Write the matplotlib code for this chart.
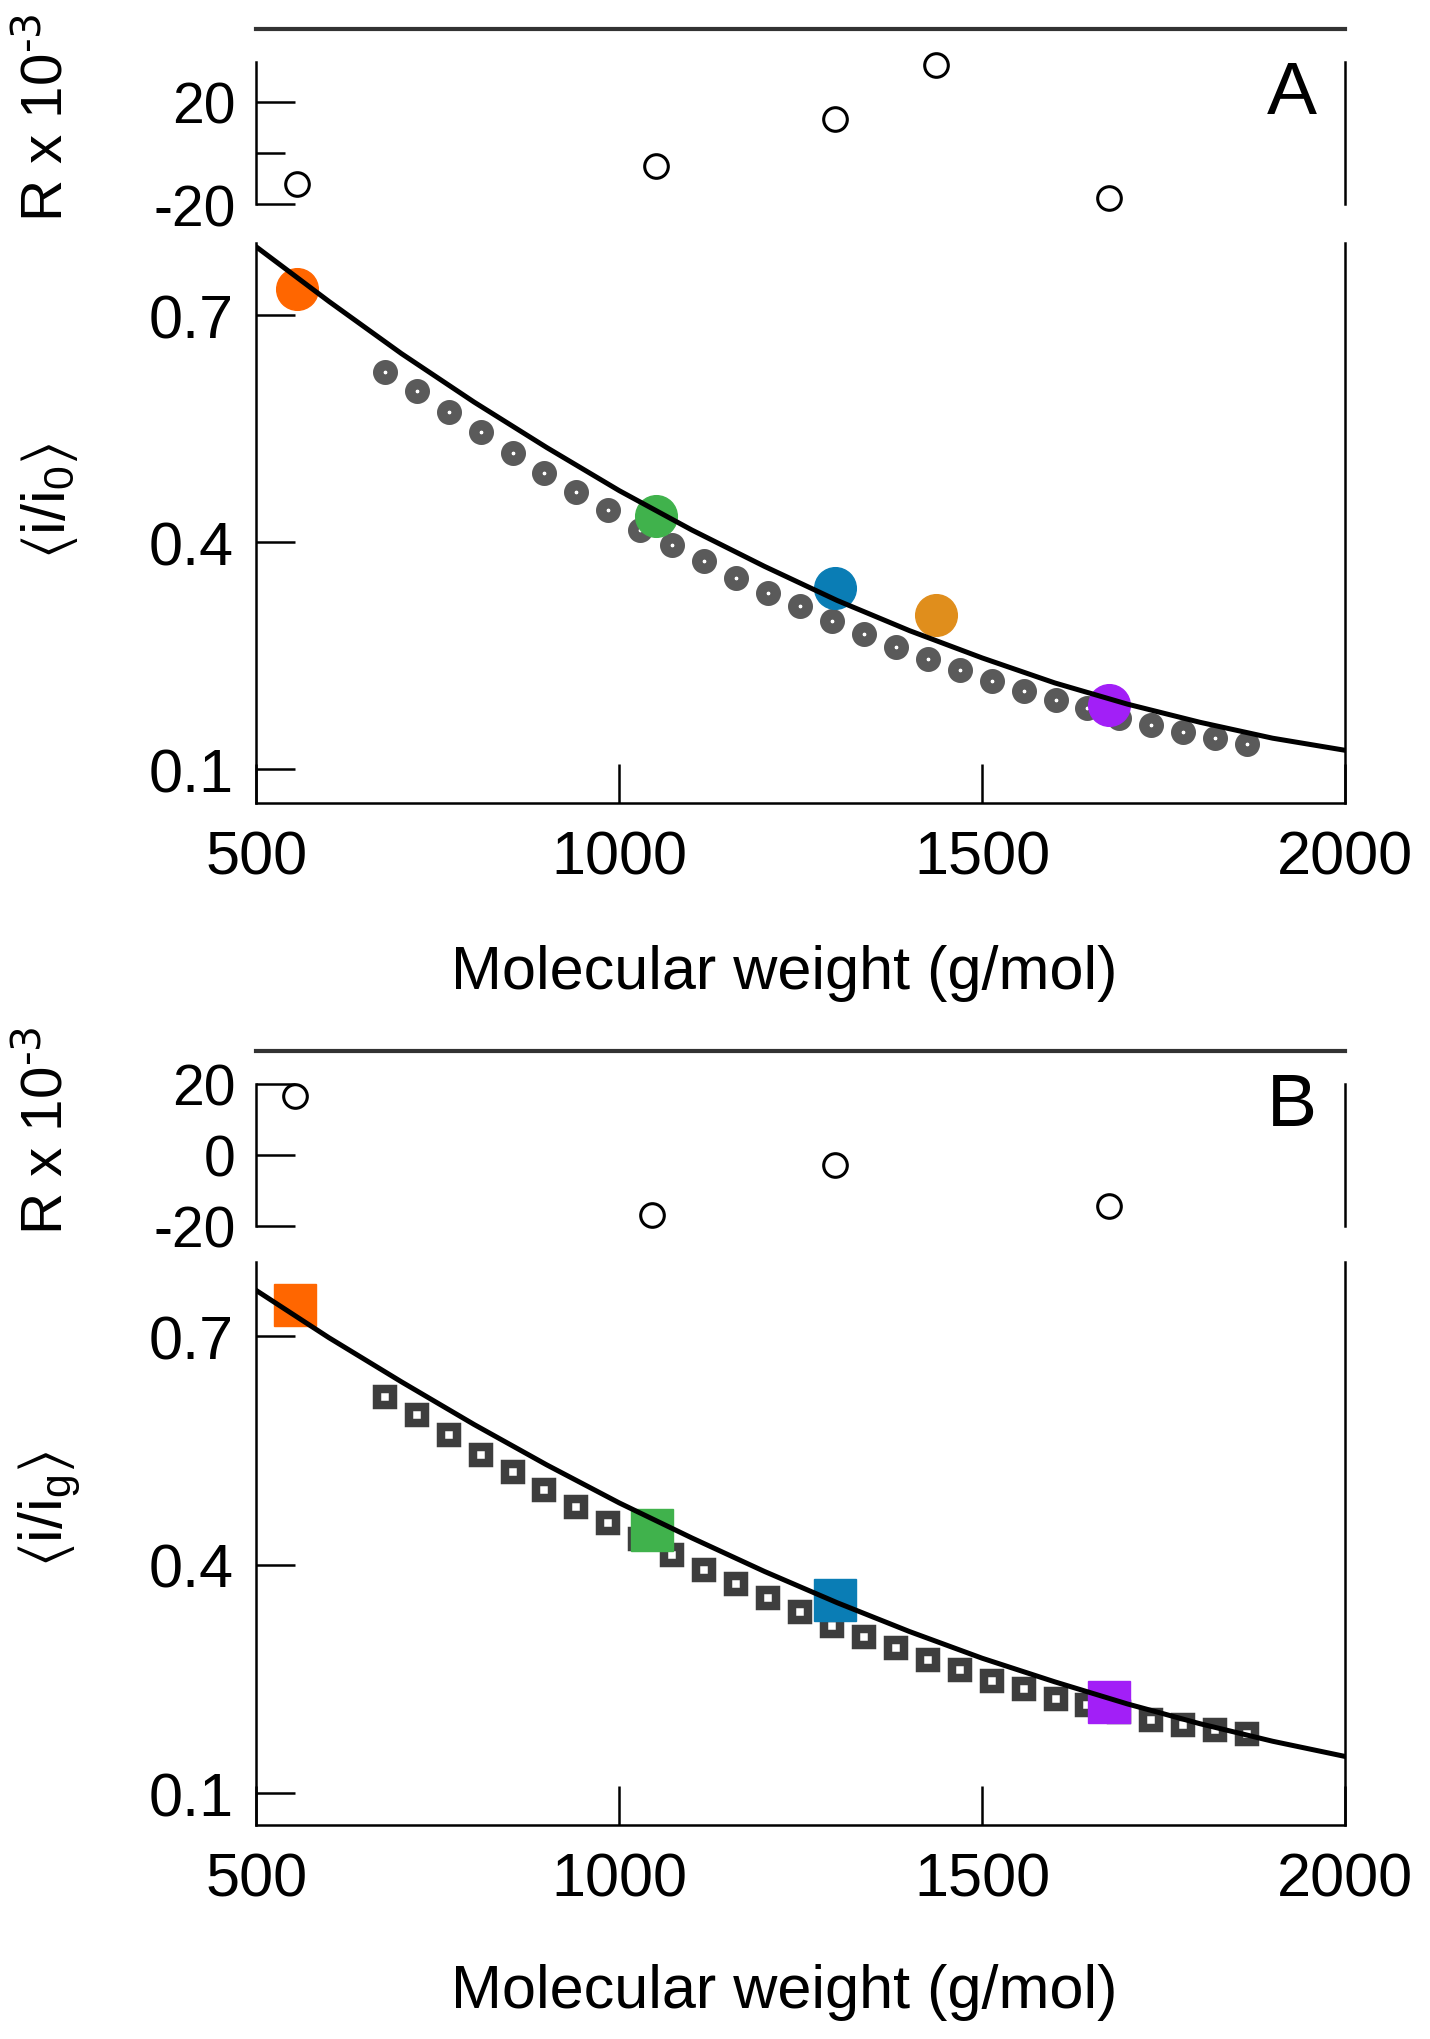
import matplotlib
matplotlib.use('Agg')
import matplotlib.pyplot as plt

# ---- data ----
# panel A (circles)
mw_col_a = [556, 1050, 1297, 1437, 1674]
ratio_col_a = [0.735, 0.434, 0.340, 0.304, 0.185]
colors_a = ['#ff6600', '#40b24c', '#0a7db5', '#e08e1c', '#a21ff7']
resid_a = [-12.0, -4.9, 13.4, 34.3, -17.6]

# panel B (squares)
mw_col_b = [553, 1045, 1297, 1674]
ratio_col_b = [0.741, 0.446, 0.354, 0.220]
colors_b = ['#ff6600', '#40b24c', '#0a7db5', '#a21ff7']
resid_b = [16.5, -17.0, -3.0, -14.4]

# grey series (same molecular weights in both panels)
mw_grey = [677, 721, 765, 809, 853, 897, 941, 985, 1029, 1073,
           1117, 1161, 1205, 1249, 1293, 1337, 1381, 1425, 1469, 1513,
           1557, 1601, 1645, 1689, 1733, 1777, 1821, 1865]
ratio_grey_a = [0.625, 0.599, 0.572, 0.545, 0.518, 0.491, 0.466, 0.443, 0.416, 0.396,
                0.375, 0.353, 0.333, 0.315, 0.296, 0.278, 0.262, 0.246, 0.231, 0.217,
                0.204, 0.192, 0.181, 0.168, 0.159, 0.149, 0.141, 0.133]
ratio_grey_b = [0.620, 0.596, 0.570, 0.544, 0.521, 0.498, 0.476, 0.455, 0.434, 0.413,
                0.393, 0.374, 0.356, 0.338, 0.320, 0.305, 0.290, 0.275, 0.261, 0.247,
                0.237, 0.224, 0.216, 0.207, 0.196, 0.189, 0.183, 0.177]

# fitted curves
mw_fit = [500, 600, 700, 800, 900, 1000, 1100, 1200, 1300, 1400,
          1500, 1600, 1700, 1800, 1900, 2000]
fit_a = [0.790, 0.718, 0.649, 0.585, 0.525, 0.468, 0.416, 0.368, 0.323, 0.283,
         0.247, 0.214, 0.186, 0.162, 0.141, 0.125]
fit_b = [0.760, 0.698, 0.640, 0.584, 0.531, 0.481, 0.435, 0.391, 0.350, 0.312,
         0.277, 0.246, 0.217, 0.191, 0.168, 0.148]

plt.rcParams['font.family'] = ['Liberation Sans', 'DejaVu Sans']
plt.rcParams['mathtext.default'] = 'regular'

W, H = 1430, 2040
fig = plt.figure(figsize=(W / 100, H / 100), dpi=100)

left = 256.3 / W
width = (1345.2 - 256.3) / W


def px(y0, y1):
    # pixel rows (top, bottom) -> figure fraction (bottom, height)
    return 1 - y1 / H, (y1 - y0) / H


def residual_panel(rect, x, r, ylim, bounds, ticks, minor):
    ax = fig.add_axes(rect)
    ax.plot(x, r, 'o', ms=17, mfc='white', mec='black', mew=2.2, zorder=3, clip_on=False)
    ax.set_xlim(500, 2000)
    ax.set_ylim(*ylim)
    ax.spines['bottom'].set_visible(False)
    ax.spines['top'].set_linewidth(3.0)
    ax.spines['top'].set_color('#333333')
    for s in ['left', 'right']:
        ax.spines[s].set_bounds(*bounds)
        ax.spines[s].set_linewidth(1.8)
    ax.set_xticks([])
    ax.set_yticks(ticks)
    ax.set_yticklabels([str(t) for t in ticks])
    if minor:
        ax.set_yticks(minor, minor=True)
        ax.tick_params(axis='y', which='minor', direction='in', length=21, width=1.8)
    ax.tick_params(axis='y', which='major', direction='in', length=28, width=1.8,
                   labelsize=41, pad=15)
    ax.patch.set_alpha(0)
    return ax


def main_panel(rect, xc, yc, cols, yg, fit, marker, grey, ylim):
    ax = fig.add_axes(rect)
    if marker == 'o':
        ax.plot(mw_grey, yg, 'o', ms=10.5, mfc='white', mec=grey, mew=7.5, zorder=2)
        size = 30
    else:
        ax.plot(mw_grey, yg, 's', ms=11.2, mfc='white', mec=grey, mew=6.1, zorder=2)
        size = 30
    for x, y, c in zip(xc, yc, cols):
        ax.plot(x, y, marker, ms=size, color=c, mec=c, zorder=3)
    ax.plot(mw_fit, fit, '-', color='black', lw=3.6, zorder=4)
    ax.set_xlim(500, 2000)
    ax.set_ylim(*ylim)
    ax.spines['top'].set_visible(False)
    for s in ['left', 'right', 'bottom']:
        ax.spines[s].set_linewidth(1.8)
    ax.set_xticks([500, 1000, 1500, 2000])
    ax.set_yticks([0.1, 0.4, 0.7])
    ax.tick_params(axis='x', direction='in', length=28, width=1.8, labelsize=44, pad=19)
    ax.tick_params(axis='y', direction='in', length=28, width=1.8, labelsize=44, pad=16)
    ax.patch.set_alpha(0)
    return ax


# ---- panel A ----
b, h = px(30, 207.7)
residual_panel([left, b, width, h], mw_col_a, resid_a, (-21, 48.5), (-20, 35.5),
               [-20, 20], [0])
b, h = px(244.1, 804.3)
main_panel([left, b, width, h], mw_col_a, ratio_col_a, colors_a, ratio_grey_a, fit_a,
           'o', '#5a5a5a', (0.055, 0.795))

# ---- panel B ----
b, h = px(1052, 1230.2)
residual_panel([left, b, width, h], mw_col_b, resid_b, (-21, 29.3), (-20, 20),
               [-20, 0, 20], None)
b, h = px(1263.3, 1826)
main_panel([left, b, width, h], mw_col_b, ratio_col_b, colors_b, ratio_grey_b, fit_b,
           's', '#3e3e3e', (0.058, 0.797))

# ---- labels ----
def ftext(xp, yp, s, **kw):
    fig.text(xp / W, 1 - yp / H, s, ha='center', va='center', **kw)

ftext(47, 118, r'R x 10$^{\text{-3}}$', rotation=90, fontsize=42)
ftext(47, 1131, r'R x 10$^{\text{-3}}$', rotation=90, fontsize=42)
ftext(50, 501, r'$\langle$i/i$_0\rangle$', rotation=90, fontsize=44)
ftext(50, 1509, r'$\langle$i/i$_g\rangle$', rotation=90, fontsize=44)
ftext(784, 973, 'Molecular weight (g/mol)', fontsize=44)
ftext(784, 1993, 'Molecular weight (g/mol)', fontsize=44)
ftext(1292, 94, 'A', fontsize=54)
ftext(1292, 1107, 'B', fontsize=54)

fig.savefig('out.png', dpi=100)
